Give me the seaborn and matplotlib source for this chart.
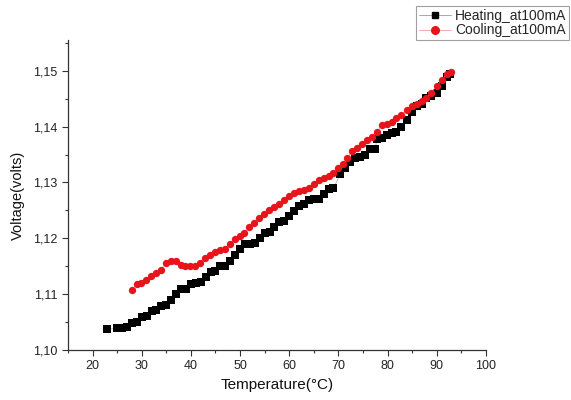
import matplotlib
matplotlib.use("Agg")
import matplotlib.pyplot as plt
import matplotlib.ticker as mticker
import numpy as np
import pandas as pd
import seaborn as sns

# Heating run (black squares)
heat_temp = [23, 25, 26, 27, 28, 29, 30, 31, 32, 33, 34, 35, 36, 37, 38, 39, 40, 41, 42,
             43, 44, 45, 46, 47, 48, 49, 50, 51, 52, 53, 54, 55, 56, 57, 58, 59, 60, 61,
             62, 63, 64, 65, 66, 67, 68, 69, 70.4, 71.4, 72.4, 73.4, 74.4, 75.4, 76.5,
             77.5, 77.8, 78.8, 79.8, 80.8, 81.8, 82.8, 83.9, 84.9, 85.9, 86.9, 87.9, 88.9,
             90, 91, 92, 92.7]
heat_volt = [1.1037, 1.1039, 1.1040, 1.1041, 1.1049, 1.1050, 1.1059, 1.1061, 1.1069,
             1.1071, 1.1079, 1.1081, 1.1090, 1.1100, 1.1109, 1.1110, 1.1119, 1.1120,
             1.1121, 1.1130, 1.1139, 1.1141, 1.1150, 1.1151, 1.1160, 1.1170, 1.1180,
             1.1189, 1.1190, 1.1191, 1.1200, 1.1210, 1.1211, 1.1220, 1.1229, 1.1231,
             1.1240, 1.1249, 1.1258, 1.1261, 1.1268, 1.1270, 1.1270, 1.1280, 1.1289,
             1.1290, 1.1315, 1.1326, 1.1336, 1.1344, 1.1345, 1.1350, 1.1359, 1.1360,
             1.1378, 1.1380, 1.1385, 1.1389, 1.1390, 1.1400, 1.1412, 1.1426, 1.1437,
             1.1440, 1.1452, 1.1455, 1.1460, 1.1473, 1.1488, 1.1494]

# Cooling run (red circles)
cool_temp = [28.0, 29.1, 29.9, 30.9, 31.9, 32.9, 33.9, 34.9, 35.9, 36.9, 37.9, 38.9, 39.9,
             40.9, 41.9, 42.9, 43.9, 44.9, 45.9, 46.9, 47.9, 48.9, 49.9, 50.9, 51.9, 52.9,
             53.9, 54.9, 55.9, 56.9, 57.9, 58.9, 59.9, 60.9, 61.9, 63.0, 64.0, 65.0, 66.0,
             67.0, 68.0, 69.0, 70.0, 70.9, 71.7, 72.7, 73.7, 74.8, 75.8, 76.8, 77.8, 78.8,
             79.8, 80.8, 81.8, 82.8, 83.9, 84.9, 85.9, 86.9, 87.9, 88.9, 90.0, 91.0, 92.0,
             92.8]
cool_volt = [1.1108, 1.1119, 1.1120, 1.1125, 1.1132, 1.1138, 1.1143, 1.1155, 1.1159,
             1.1159, 1.1153, 1.1150, 1.1150, 1.1150, 1.1156, 1.1164, 1.1170, 1.1175,
             1.1179, 1.1181, 1.1190, 1.1198, 1.1204, 1.1210, 1.1220, 1.1228, 1.1237,
             1.1243, 1.1250, 1.1256, 1.1261, 1.1268, 1.1275, 1.1281, 1.1284, 1.1287,
             1.1290, 1.1298, 1.1304, 1.1308, 1.1312, 1.1317, 1.1326, 1.1333, 1.1343,
             1.1356, 1.1362, 1.1369, 1.1376, 1.1382, 1.1390, 1.1402, 1.1404, 1.1408,
             1.1415, 1.1421, 1.1429, 1.1437, 1.1441, 1.1445, 1.1452, 1.1461, 1.1473,
             1.1483, 1.1494, 1.1497]

heat_label = "Heating_at100mA"
cool_label = "Cooling_at100mA"

sns.set_theme(style="ticks")
plt.rcParams["font.family"] = ["Liberation Sans", "DejaVu Sans"]

fig = plt.figure(figsize=(5.71, 4.0), dpi=100)
ax = fig.add_axes([0.119, 0.125, 0.732, 0.775])

heat_df = pd.DataFrame({"T": heat_temp, "V": heat_volt})
cool_df = pd.DataFrame({"T": cool_temp, "V": cool_volt})

sns.lineplot(data=heat_df, x="T", y="V", ax=ax, color="#b0b0b0", linewidth=0.6,
             sort=False, zorder=1)
sns.scatterplot(data=heat_df, x="T", y="V", ax=ax, marker="s", s=28, color="black",
                edgecolor="black", linewidth=0, zorder=2)
sns.lineplot(data=cool_df, x="T", y="V", ax=ax, color="#f0a0a0", linewidth=0.6,
             sort=False, zorder=3)
sns.scatterplot(data=cool_df, x="T", y="V", ax=ax, marker="o", s=28, color="#e8141c",
                edgecolor="#e8141c", linewidth=0, zorder=4)

ax.set_xlim(15, 100)
ax.set_ylim(1.10, 1.1555)
ax.xaxis.set_major_locator(mticker.MultipleLocator(10))
ax.xaxis.set_minor_locator(mticker.MultipleLocator(5))
ax.yaxis.set_major_locator(mticker.MultipleLocator(0.01))
ax.yaxis.set_minor_locator(mticker.MultipleLocator(0.005))
ax.xaxis.set_major_formatter(mticker.FuncFormatter(
    lambda v, p: "" if v < 19 else f"{v:.0f}"))
ax.yaxis.set_major_formatter(mticker.FuncFormatter(
    lambda v, p: f"{v:.2f}".replace(".", ",")))

for side in ("top", "right"):
    ax.spines[side].set_visible(False)
for side in ("left", "bottom"):
    ax.spines[side].set_color("#333333")
    ax.spines[side].set_linewidth(0.9)

ax.tick_params(axis="both", which="major", direction="out", length=4, width=0.8,
               labelsize=9, colors="#333333", labelcolor="#222222")
ax.tick_params(axis="both", which="minor", direction="out", length=2.5, width=0.8,
               colors="#333333")

ax.set_xlabel("Temperature(°C)", fontsize=11, color="#111111", labelpad=4)
ax.set_ylabel("Voltage(volts)", fontsize=10.5, color="#111111", labelpad=6)

handles = [
    plt.Line2D([], [], color="#9a9a9a", linewidth=0.6, marker="s", markersize=5,
               markerfacecolor="black", markeredgecolor="black"),
    plt.Line2D([], [], color="#f0a0a0", linewidth=0.6, marker="o", markersize=5.5,
               markerfacecolor="#e8141c", markeredgecolor="#e8141c"),
]
leg = fig.legend(handles, [heat_label, cool_label], loc="upper right",
                 bbox_to_anchor=(0.997, 0.985), bbox_transform=fig.transFigure,
                 fontsize=10, frameon=True, fancybox=False, handlelength=2.3,
                 handletextpad=0.3, borderpad=0.2, labelspacing=0.05,
                 borderaxespad=0)
leg.get_frame().set_edgecolor("#888888")
leg.get_frame().set_linewidth(0.8)

fig.savefig("out.png", dpi=100)
